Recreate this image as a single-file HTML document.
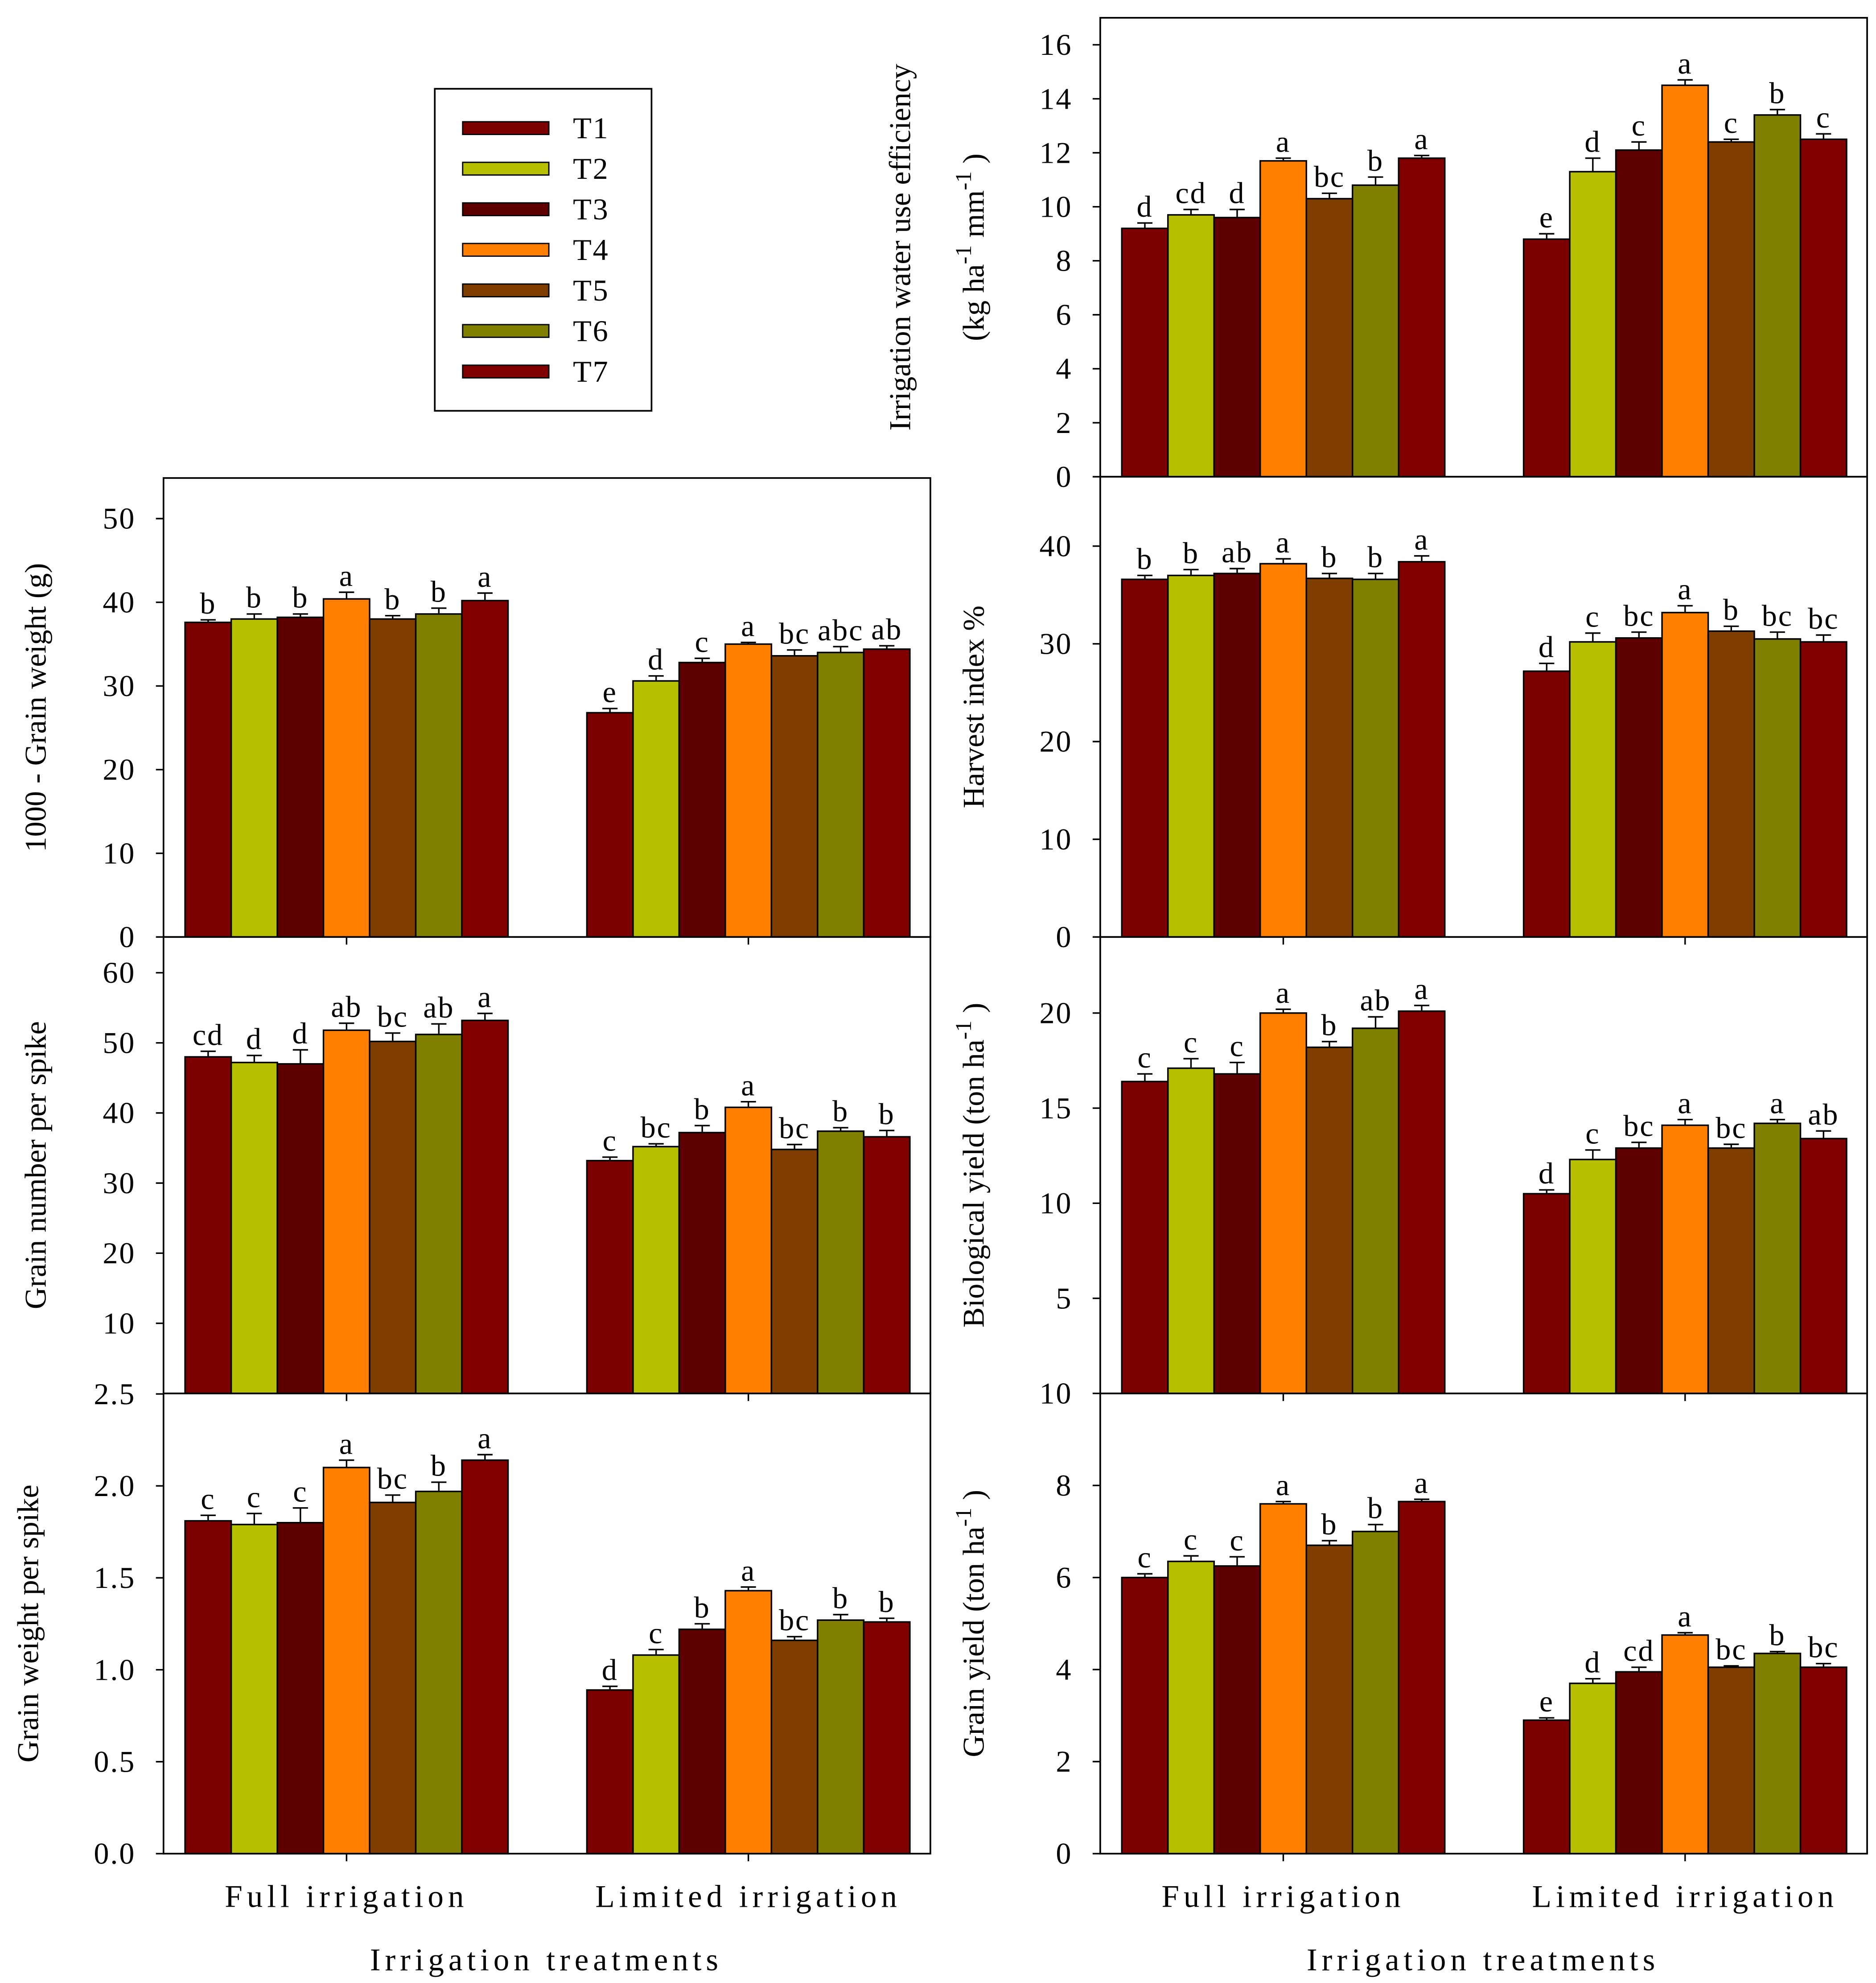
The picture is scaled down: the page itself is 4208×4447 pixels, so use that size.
<!DOCTYPE html>
<html><head><meta charset="utf-8"><style>
html,body{margin:0;padding:0;background:#fff}
svg{display:block}
text{font-family:"Liberation Serif",serif;fill:#000}
</style></head><body>
<svg id="c" width="4208" height="4447" viewBox="0 0 1480 1564" xmlns="http://www.w3.org/2000/svg">
<g id="legend"></g>
</svg>
<script>
const treatments=["T1","T2","T3","T4","T5","T6","T7"];
const colors=["#7d0000","#b6bf00","#5e0000","#ff8000","#7f3d00","#7f7f00","#800000"];
const groups=["Full irrigation","Limited irrigation"];
const gwFull=[37.6,38.0,38.2,40.4,38.0,38.6,40.2];
const gwLim=[26.8,30.6,32.8,35.0,33.6,34.0,34.4];
const gwErrF=[0.3,0.6,0.4,0.8,0.4,0.7,0.9];
const gwErrL=[0.5,0.6,0.5,0.2,0.7,0.7,0.4];
const gwLetF=["b","b","b","a","b","b","a"];
const gwLetL=["e","d","c","a","bc","abc","ab"];
const gnFull=[48.0,47.2,47.0,51.8,50.2,51.2,53.2];
const gnLim=[33.2,35.2,37.2,40.8,34.8,37.4,36.6];
const gnErrF=[0.8,1.0,2.0,1.0,1.2,1.5,1.0];
const gnErrL=[0.5,0.4,1.0,0.8,0.7,0.5,0.9];
const gnLetF=["cd","d","d","ab","bc","ab","a"];
const gnLetL=["c","bc","b","a","bc","b","b"];
const gsFull=[1.81,1.79,1.80,2.10,1.91,1.97,2.14];
const gsLim=[0.89,1.08,1.22,1.43,1.16,1.27,1.26];
const gsErrF=[0.03,0.06,0.08,0.04,0.04,0.05,0.03];
const gsErrL=[0.02,0.03,0.03,0.02,0.02,0.03,0.02];
const gsLetF=["c","c","c","a","bc","b","a"];
const gsLetL=["d","c","b","a","bc","b","b"];
const wuFull=[9.2,9.7,9.6,11.7,10.3,10.8,11.8];
const wuLim=[8.8,11.3,12.1,14.5,12.4,13.4,12.5];
const wuErrF=[0.2,0.2,0.3,0.1,0.2,0.3,0.1];
const wuErrL=[0.2,0.5,0.3,0.2,0.1,0.2,0.2];
const wuLetF=["d","cd","d","a","bc","b","a"];
const wuLetL=["e","d","c","a","c","b","c"];
const hiFull=[36.6,37.0,37.2,38.2,36.7,36.6,38.4];
const hiLim=[27.2,30.2,30.6,33.2,31.3,30.5,30.2];
const hiErrF=[0.4,0.6,0.5,0.5,0.5,0.6,0.6];
const hiErrL=[0.8,0.9,0.6,0.7,0.5,0.7,0.7];
const hiLetF=["b","b","ab","a","b","b","a"];
const hiLetL=["d","c","bc","a","b","bc","bc"];
const byFull=[16.4,17.1,16.8,20.0,18.2,19.2,20.1];
const byLim=[10.5,12.3,12.9,14.1,12.9,14.2,13.4];
const byErrF=[0.4,0.5,0.6,0.2,0.3,0.6,0.3];
const byErrL=[0.2,0.5,0.3,0.3,0.2,0.2,0.4];
const byLetF=["c","c","c","a","b","ab","a"];
const byLetL=["d","c","bc","a","bc","a","ab"];
const gyFull=[6.0,6.35,6.25,7.6,6.7,7.0,7.65];
const gyLim=[2.9,3.7,3.95,4.75,4.05,4.35,4.05];
const gyErrF=[0.08,0.12,0.2,0.05,0.1,0.15,0.05];
const gyErrL=[0.05,0.1,0.1,0.05,0.03,0.04,0.08];
const gyLetF=["c","c","c","a","b","b","a"];
const gyLetL=["e","d","cd","a","bc","b","bc"];

const NS="http://www.w3.org/2000/svg";
const svg=document.getElementById("c");
function el(tag,attrs,parent,txt){const e=document.createElementNS(NS,tag);for(const k in attrs)e.setAttribute(k,attrs[k]);if(txt!==undefined)e.textContent=txt;(parent||svg).appendChild(e);return e;}

function panel(p){
  const g=el("g",{});
  
  
  const y=v=>p.y1-(v-0)/(p.max)*(p.y1-p.y0);
  const x0=p.x0;
  const bw=36.4;
  const gStart=[p.x0+17,p.x0+334];
  [[p.full,p.errF,p.letF],[p.lim,p.errL,p.letL]].forEach((s,gi)=>{
    s[0].forEach((v,i)=>{
      const bx=gStart[gi]+i*bw;
      const r=el("rect",{x:bx,y:y(v),width:bw,height:p.y1-y(v),fill:colors[i],stroke:"#000","stroke-width":1.2},g);
      
      
      const cx=bx+bw/2,ty=y(v+s[1][i]);
      el("line",{x1:cx,x2:cx,y1:y(v),y2:ty,stroke:"#000","stroke-width":1.2},g);
      el("line",{x1:cx-6,x2:cx+6,y1:ty,y2:ty,stroke:"#000","stroke-width":1.2},g);
      const t=el("text",{x:cx,y:ty-5,"text-anchor":"middle","font-size":24,"letter-spacing":"1"},g,s[2][i]);
      
      
    });
  });
  el("rect",{x:x0,y:p.y0,width:605,height:p.y1-p.y0,fill:"none",stroke:"#000","stroke-width":1.3},g);
  p.ticks.forEach(v=>{
    const ty=y(v);
    el("line",{x1:x0,x2:x0-6,y1:ty,y2:ty,stroke:"#000","stroke-width":1.2},g);
    const t=el("text",{x:x0-22,y:ty+8,"text-anchor":"end","font-size":24,"letter-spacing":"1"},g,p.fmt?v.toFixed(p.fmt):String(v));
    
    
  });
  if(p.xticks){[gStart[0]+bw*3.5,gStart[1]+bw*3.5].forEach(cx=>el("line",{x1:cx,x2:cx,y1:p.y1,y2:p.y1+6,stroke:"#000","stroke-width":1.2},g));}
  p.title.forEach((tl)=>{
    const t=el("text",{x:0,y:0,"text-anchor":"middle","font-size":24,transform:`translate(${tl.x},${(p.y0+p.y1)/2+(tl.dy||0)}) rotate(-90)`},g);
    t.innerHTML=tl.html;
    
    
  });
  if(p.xlabels){
    [gStart[0]+bw*3.5,gStart[1]+bw*3.5].forEach((cx,gi)=>{
      const t=el("text",{x:cx,y:p.y1+42,"text-anchor":"middle","font-size":25,"letter-spacing":"3.5"},g,groups[gi]);
      
      
    });
    const t=el("text",{x:p.x0+302,y:p.y1+92,"text-anchor":"middle","font-size":25,"letter-spacing":"3.5"},g,"Irrigation treatments");
    
    
  }
}
const sup=s=>`<tspan dy="-10" font-size="18">${s}</tspan><tspan dy="10"> </tspan>`;
panel({name:"panel-1000-grain-weight",x0:129,y0:377,y1:739,max:54.85,full:gwFull,lim:gwLim,errF:gwErrF,errL:gwErrL,letF:gwLetF,letL:gwLetL,ticks:[0,10,20,30,40,50],xticks:1,title:[{x:36,html:"1000 - Grain weight (g)"}]});
panel({name:"panel-grain-number",x0:129,y0:739,y1:1099,max:65.1,full:gnFull,lim:gnLim,errF:gnErrF,errL:gnErrL,letF:gnLetF,letL:gnLetL,ticks:[10,20,30,40,50,60],xticks:1,title:[{x:36,html:"Grain number per spike"}]});
panel({name:"panel-grain-weight-spike",x0:129,y0:1099,y1:1462,max:2.503,full:gsFull,lim:gsLim,errF:gsErrF,errL:gsErrL,letF:gsLetF,letL:gsLetL,ticks:[0,0.5,1,1.5,2,2.5],fmt:1,xticks:1,xlabels:1,title:[{x:30,html:"Grain weight  per spike"}]});
panel({name:"panel-iwue",x0:868,y0:14,y1:376,max:17.0,full:wuFull,lim:wuLim,errF:wuErrF,errL:wuErrL,letF:wuLetF,letL:wuLetL,ticks:[0,2,4,6,8,10,12,14,16],title:[{x:718,html:"Irrigation water use efficiency"},{x:776,dy:0,html:"(kg ha"+sup("-1")+"mm"+sup("-1")+")"}]});
panel({name:"panel-harvest-index",x0:868,y0:376,y1:739,max:47.1,full:hiFull,lim:hiLim,errF:hiErrF,errL:hiErrL,letF:hiLetF,letL:hiLetL,ticks:[0,10,20,30,40],xticks:1,title:[{x:776,html:"Harvest index %"}]});
panel({name:"panel-biological-yield",x0:868,y0:739,y1:1099,max:24.0,full:byFull,lim:byLim,errF:byErrF,errL:byErrL,letF:byLetF,letL:byLetL,ticks:[5,10,15,20],xticks:1,title:[{x:776,html:"Biological  yield (ton ha"+sup("-1")+")"}]});
panel({name:"panel-grain-yield",x0:868,y0:1099,y1:1462,max:10.0,full:gyFull,lim:gyLim,errF:gyErrF,errL:gyErrL,letF:gyLetF,letL:gyLetL,ticks:[0,2,4,6,8,10],xticks:1,xlabels:1,title:[{x:776,html:"Grain yield (ton ha"+sup("-1")+")"}]});

const lg=document.getElementById("legend");
el("rect",{x:343,y:70,width:171,height:254,fill:"#fff",stroke:"#000","stroke-width":1.3},lg);
treatments.forEach((t,i)=>{
  const yy=101+i*32;
  const r=el("rect",{x:365,y:yy-5,width:68,height:10,fill:colors[i],stroke:"#000","stroke-width":1},lg);
  
  
  const tx=el("text",{x:452,y:yy+8,"font-size":24,"letter-spacing":"1"},lg,t);
  
  
});
svg.appendChild(lg);
</script>
</body></html>
